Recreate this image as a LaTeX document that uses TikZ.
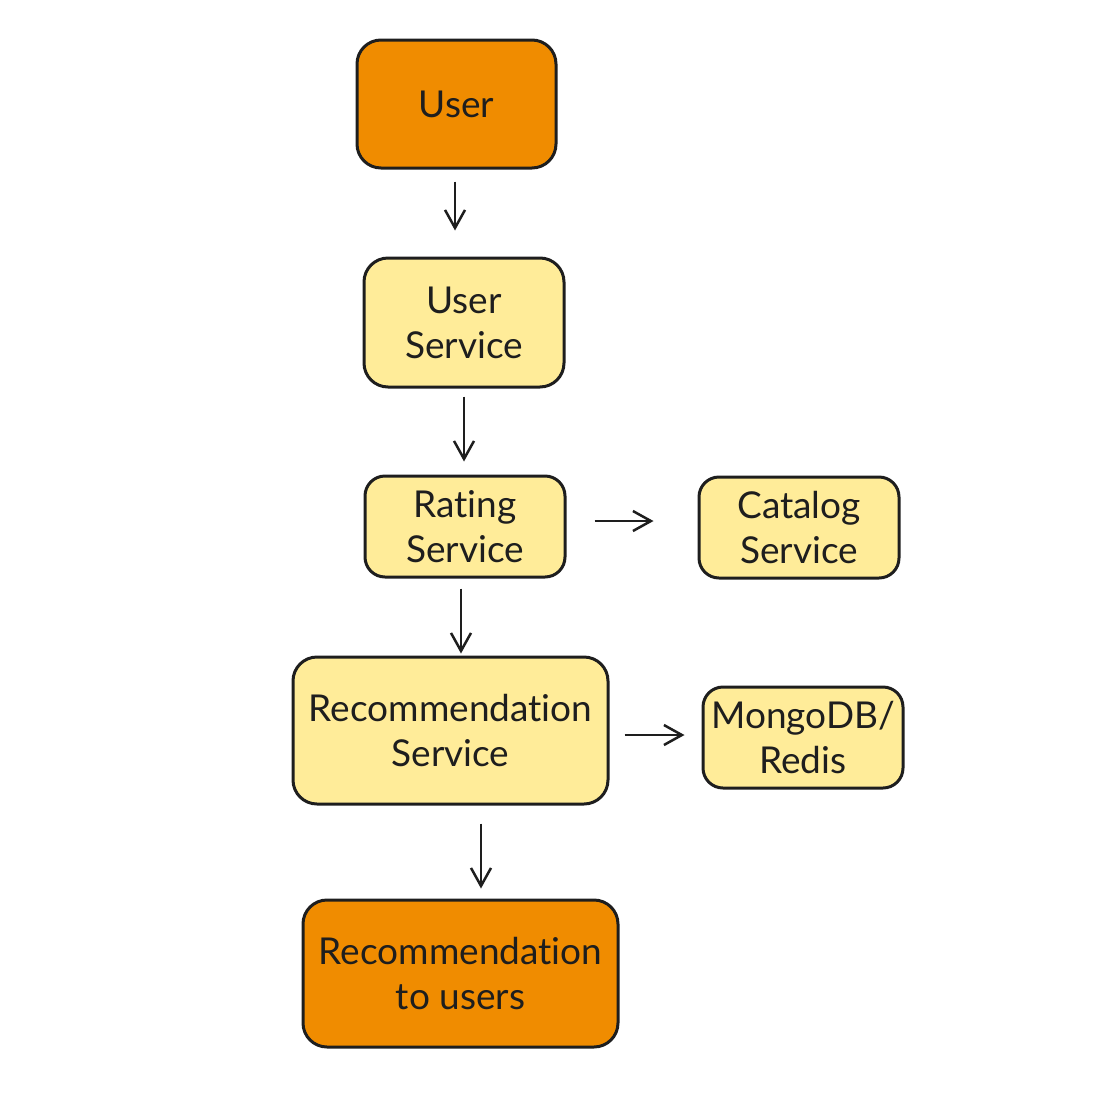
\documentclass[tikz,border=0pt]{standalone}
\usepackage{fontspec}
\setmainfont{Lato}[Ligatures=NoCommon]
\usetikzlibrary{arrows.meta}
\definecolor{orng}{HTML}{F08C00}
\definecolor{yel}{HTML}{FFEC99}
\definecolor{ink}{HTML}{1E1E1E}
\tikzset{
  box/.style={draw=ink, line width=3pt, rounded corners=24pt, align=center, inner sep=0pt,
    font=\fontsize{37}{45}\selectfont, text=ink},
  obox/.style={box, fill=orng},
  ybox/.style={box, fill=yel},
  sbox/.style={ybox, minimum width=200pt, minimum height=101pt, rounded corners=20pt},
  arr/.style={draw=ink, line width=2.5pt, -{Straight Barb[length=18pt,width=20pt,line width=2.5pt]}},
}
\begin{document}
\begin{tikzpicture}[x=1pt,y=-1pt]
\useasboundingbox (0,0) rectangle (1097,1117);
\node[obox, minimum width=199pt, minimum height=128pt] (u) at (456.5,104) {User};
\node[ybox, minimum width=200pt, minimum height=129pt] (us) at (464,322.5) {User\\Service};
\node[sbox] (rs) at (465,526.5) {Rating\\Service};
\node[sbox] (cs) at (799,527.5) {Catalog\\Service};
\node[ybox, minimum width=315pt, minimum height=147pt] (rec) at (450.5,730.5) {Recommendation\\Service};
\node[sbox] (db) at (803,737.5) {MongoDB/\\Redis};
\node[obox, minimum width=315pt, minimum height=147pt] (out) at (460.5,973.5) {Recommendation\\to users};
\draw[arr, shorten <=12pt, shorten >=26pt] ([xshift=-1.5pt]u.south) -- ([xshift=-1.5pt]u.south |- us.north);
\draw[arr, shorten <=8pt, shorten >=13pt] (us.south) -- (us.south |- rs.north);
\draw[arr, shorten <=10pt, shorten >=2pt] ([xshift=-4pt]rs.south) -- ([xshift=-4pt]rs.south |- rec.north);
\draw[arr, shorten <=18pt, shorten >=10pt] ([xshift=30.5pt]rec.south) -- ([xshift=30.5pt]rec.south |- out.north);
\draw[arr, shorten <=28pt, shorten >=44pt] ([yshift=5.5pt]rs.east) -- ([yshift=5.5pt]rs.east -| cs.west);
\draw[arr, shorten <=15pt, shorten >=17pt] ([yshift=-4.5pt]rec.east) -- ([yshift=-4.5pt]rec.east -| db.west);
\end{tikzpicture}
\end{document}
